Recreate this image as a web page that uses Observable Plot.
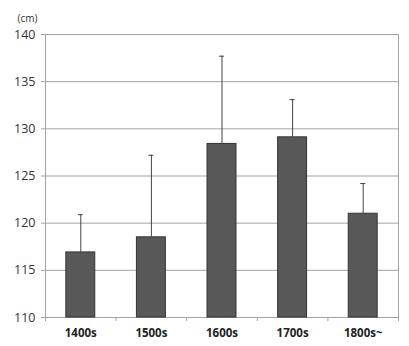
<!DOCTYPE html>
<html><head><meta charset="utf-8">
<script src="https://cdn.jsdelivr.net/npm/d3@7"></script>
<script src="https://cdn.jsdelivr.net/npm/@observablehq/plot@0.6"></script>
<style>body{margin:0;background:#fff}</style>
</head><body><div id="chart"></div>
<script>
const eras = ["1400s", "1500s", "1600s", "1700s", "1800s~"];
const means = [116.9, 118.5, 128.4, 129.1, 121.0];
const sds = [4.0, 8.7, 9.3, 4.0, 3.2];
const yTicks = [110, 115, 120, 125, 130, 135, 140];
const unitLabel = "(cm)";

const data = eras.map((era, i) => ({era, i, mean: means[i], upper: means[i] + sds[i]}));
const yMin = yTicks[0], yMax = yTicks[yTicks.length - 1];
const barPad = 0.295, capHalf = 0.035;
const boundaries = d3.range(eras.length + 1);
const centers = eras.map((_, i) => i + 0.5);
const gridColor = "#a3a3a3";

const chart = Plot.plot({
  width: 409, height: 346,
  marginLeft: 45, marginRight: 11, marginTop: 34, marginBottom: 29,
  style: {fontFamily: "'Open Sans', sans-serif", fontSize: "12px", color: "#333", background: "#fff"},
  x: {domain: [0, eras.length]},
  y: {domain: [yMin, yMax]},
  marks: [
    Plot.gridY(yTicks, {stroke: gridColor, strokeOpacity: 1}),
    Plot.frame({stroke: gridColor}),
    Plot.rectY(data, {x1: d => d.i + barPad, x2: d => d.i + 1 - barPad, y1: yMin, y2: "mean", fill: "#585858", stroke: "#333", strokeWidth: 1}),
    Plot.ruleX(data, {x: d => d.i + 0.5, y1: "mean", y2: "upper", stroke: "#444"}),
    Plot.ruleY(data, {y: "upper", x1: d => d.i + 0.5 - capHalf, x2: d => d.i + 0.5 + capHalf, stroke: "#444"}),
    Plot.axisY(yTicks, {tickSize: 4, tickPadding: 6, stroke: gridColor, fill: "#333", fontSize: 12.5, label: null}),
    Plot.axisX(boundaries, {tickSize: 4, tickFormat: () => "", stroke: gridColor, label: null}),
    Plot.axisX(centers, {tickSize: 0, tickPadding: 11, tickFormat: d => eras[Math.floor(d)], fill: "#222", fontWeight: "bold", fontSize: 11.5, label: null}),
    Plot.text([unitLabel], {frameAnchor: "top-left", dx: -28, dy: -20, textAnchor: "start", fontSize: 10, fill: "#333"})
  ]
});
document.getElementById("chart").append(chart);
</script>
</body></html>
